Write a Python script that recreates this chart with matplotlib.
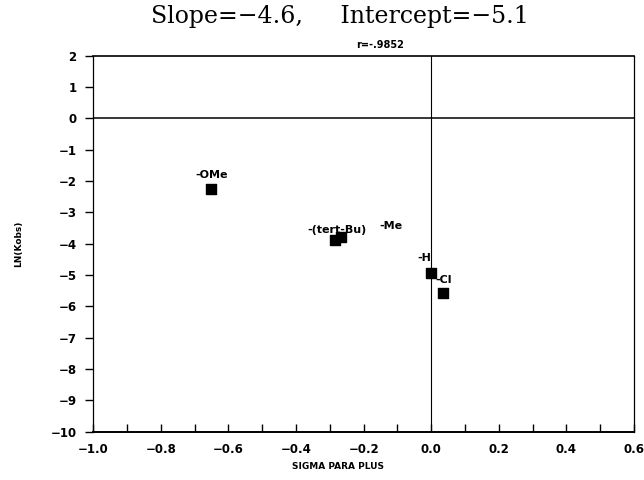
import matplotlib
matplotlib.use('Agg')
import matplotlib.pyplot as plt
from matplotlib.ticker import MultipleLocator, FuncFormatter

# substituent data
labels = ['-OMe', '-(tert-Bu)', '-Me', '-H', '-Cl']
sigma = [-0.651, -0.284, -0.266, 0.0, 0.034]
ln_kobs = [-2.26, -3.88, -3.78, -4.92, -5.58]
# label positions (data coords) next to each point
label_x = [-0.65, -0.28, -0.12, -0.02, 0.036]
label_y = [-1.8, -3.56, -3.43, -4.46, -5.15]

slope = -4.6
intercept = -5.1
r_value = '-.9852'

plt.rcParams['font.family'] = ['DejaVu Sans']

fig = plt.figure(figsize=(6.44, 4.8), dpi=100)
ax = fig.add_axes([0.1449, 0.1006, 0.8396, 0.7834])

ax.scatter(sigma, ln_kobs, marker='s', s=42, color='black', zorder=3)
for lab, lx, ly in zip(labels, label_x, label_y):
    ax.text(lx, ly, lab, fontsize=8, fontweight='bold', ha='center', va='center')

ax.axhline(0, color='black', lw=1.1)
ax.axvline(0, color='black', lw=0.8)

ax.set_xlim(-1.0, 0.6)
ax.set_ylim(-10, 2)
ax.xaxis.set_major_locator(MultipleLocator(0.2))
ax.xaxis.set_minor_locator(MultipleLocator(0.1))
ax.yaxis.set_major_locator(MultipleLocator(1))
ax.xaxis.set_major_formatter(FuncFormatter(lambda v, p: ('%.1f' % v).replace('-', '\u2212')))

ax.tick_params(axis='x', which='both', direction='in', length=6, width=1,
               labelsize=8.5, pad=8)
ax.tick_params(axis='y', which='major', direction='out', length=6, width=1,
               labelsize=8.5, pad=6)
for lab in ax.get_xticklabels() + ax.get_yticklabels():
    lab.set_fontweight('bold')

ax.spines['bottom'].set_linewidth(1.4)
ax.spines['top'].set_linewidth(1.2)
for s in ['left', 'right']:
    ax.spines[s].set_linewidth(0.9)

ax.set_xlabel('SIGMA PARA PLUS', fontsize=6.5, fontweight='bold')
ax.xaxis.set_label_coords(0.4526, -0.08)
ax.set_ylabel('LN(Kobs)', fontsize=6.5, fontweight='bold', labelpad=20)

fig.text(0.528, 0.965, 'Slope=\u2212%.1f,     Intercept=\u2212%.1f' % (-slope, -intercept),
         family='DejaVu Serif', fontsize=17, ha='center', va='center')
fig.text(0.59, 0.906, 'r=' + r_value, fontsize=7, fontweight='bold',
         ha='center', va='center')

fig.savefig('out.png', dpi=100)
